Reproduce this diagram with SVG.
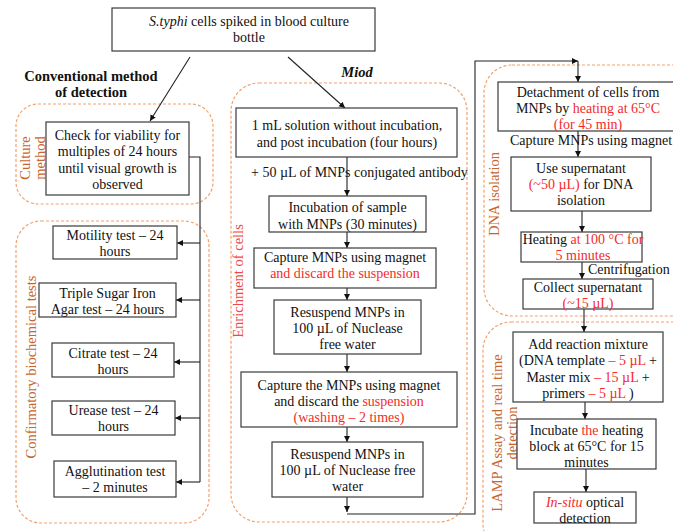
<svg xmlns="http://www.w3.org/2000/svg" width="673" height="531" viewBox="0 0 673 531">
<style>
text{font-family:"Liberation Serif","DejaVu Serif",serif;font-size:14px;fill:#111}
.c{text-anchor:middle}
.r{fill:#f52a2a}
.lbl{fill:#c8652e;font-size:14.5px}
.lblr{fill:#f04848;font-size:14.5px}
.b{font-weight:bold;font-size:14.5px}
.box{fill:#fff;stroke:#3a3a3a;stroke-width:1.2}
.grp{fill:none;stroke:#f5a06a;stroke-width:1.2;stroke-dasharray:3,2}
.ln{fill:none;stroke:#222;stroke-width:1.1}
</style>
<defs>
<marker id="ah" markerUnits="userSpaceOnUse" markerWidth="7" markerHeight="7" refX="6" refY="3.5" orient="auto">
<path d="M0,0.5 L6,3.5 L0,6.5 z" fill="#111"/>
</marker>
</defs>

<g id="groups">
<rect class="grp" x="16" y="104" width="197" height="100" rx="22"/>
<rect class="grp" x="16" y="221" width="193" height="302" rx="25"/>
<rect class="grp" x="231" y="83" width="236" height="439" rx="28"/>
<rect class="grp" x="484" y="65" width="230" height="251" rx="28"/>
<rect class="grp" x="483" y="322" width="230" height="230" rx="28"/>
<text class="c lbl" transform="translate(29.5,158) rotate(-90)">Culture</text>
<text class="c lbl" transform="translate(44.5,158) rotate(-90)">method</text>
<text class="c lbl" transform="translate(35.5,367) rotate(-90)">Confirmatory biochemical tests</text>
<text class="c lblr" transform="translate(242.5,281) rotate(-90)">Enrichment of cells</text>
<text class="c lbl" transform="translate(499,194) rotate(-90)">DNA isolation</text>
<text class="c lbl" transform="translate(501.5,433) rotate(-90)">LAMP Assay and real time</text>
<text class="c lbl" transform="translate(516.5,433) rotate(-90)">detection</text>
</g>

<g id="headings">
<text class="c b" x="91" y="81">Conventional method</text>
<text class="c b" x="91" y="97">of detection</text>
<text class="c b" x="357" y="77" font-style="italic">Miod</text>
</g>

<g id="connectors">
<line class="ln" x1="190" y1="57" x2="150" y2="121" marker-end="url(#ah)"/>
<line class="ln" x1="288" y1="57" x2="345" y2="108" marker-end="url(#ah)"/>
<polyline class="ln" points="189,157 200,157 200,482"/>
<line class="ln" x1="200" y1="243" x2="177" y2="243" marker-end="url(#ah)"/>
<line class="ln" x1="200" y1="300" x2="176" y2="300" marker-end="url(#ah)"/>
<line class="ln" x1="200" y1="362" x2="174" y2="362" marker-end="url(#ah)"/>
<line class="ln" x1="200" y1="418" x2="175" y2="418" marker-end="url(#ah)"/>
<line class="ln" x1="200" y1="482" x2="176" y2="482" marker-end="url(#ah)"/>
<line class="ln" x1="347" y1="157" x2="347" y2="196" marker-end="url(#ah)"/>
<line class="ln" x1="347" y1="232" x2="347" y2="248" marker-end="url(#ah)"/>
<line class="ln" x1="347" y1="288" x2="347" y2="300" marker-end="url(#ah)"/>
<line class="ln" x1="347" y1="354" x2="347" y2="372" marker-end="url(#ah)"/>
<line class="ln" x1="347" y1="427" x2="347" y2="442" marker-end="url(#ah)"/>
<line class="ln" x1="347" y1="497" x2="347" y2="512" marker-end="url(#ah)"/>
<polyline class="ln" points="347,514 475,514 475,61 578,61" marker-end="url(#ah)"/>
<line class="ln" x1="578" y1="61" x2="578" y2="82" marker-end="url(#ah)"/>
<line class="ln" x1="578" y1="131" x2="578" y2="157" marker-end="url(#ah)"/>
<line class="ln" x1="582" y1="211" x2="582" y2="232" marker-end="url(#ah)"/>
<line class="ln" x1="582" y1="262" x2="582" y2="279" marker-end="url(#ah)"/>
<line class="ln" x1="584" y1="309" x2="584" y2="332" marker-end="url(#ah)"/>
<line class="ln" x1="585" y1="402" x2="585" y2="419" marker-end="url(#ah)"/>
<line class="ln" x1="586" y1="469" x2="586" y2="492" marker-end="url(#ah)"/>
</g>

<g id="n-top">
<rect class="box" x="112" y="8" width="263" height="43"/>
<text class="c" x="249" y="26"><tspan font-style="italic">S.typhi</tspan> cells spiked in blood culture</text>
<text class="c" x="249" y="42">bottle</text>
</g>

<g id="n-culture">
<rect class="box" x="46" y="122" width="143" height="73"/>
<text class="c" x="117.5" y="139.5">Check for viability for</text>
<text class="c" x="117.5" y="156">multiples of 24 hours</text>
<text class="c" x="117.5" y="172.5">until visual growth is</text>
<text class="c" x="117.5" y="188.5">observed</text>
</g>

<g id="n-motility">
<rect class="box" x="53" y="226" width="124" height="33"/>
<text class="c" x="115" y="239.5">Motility test – 24</text>
<text class="c" x="115" y="256">hours</text>
</g>
<g id="n-tsi">
<rect class="box" x="39" y="283" width="137" height="34"/>
<text class="c" x="107.5" y="298">Triple Sugar Iron</text>
<text class="c" x="107.5" y="314">Agar test – 24 hours</text>
</g>
<g id="n-citrate">
<rect class="box" x="52" y="343" width="122" height="34"/>
<text class="c" x="113" y="358">Citrate test – 24</text>
<text class="c" x="113" y="374">hours</text>
</g>
<g id="n-urease">
<rect class="box" x="52" y="401" width="123" height="34"/>
<text class="c" x="113.5" y="415">Urease test – 24</text>
<text class="c" x="113.5" y="431">hours</text>
</g>
<g id="n-agglut">
<rect class="box" x="54" y="461" width="122" height="36"/>
<text class="c" x="115" y="476">Agglutination test</text>
<text class="c" x="115" y="492">– 2 minutes</text>
</g>

<g id="n-m1">
<rect class="box" x="236" y="108" width="221" height="49"/>
<text class="c" x="347" y="130">1 mL solution without incubation,</text>
<text class="c" x="347" y="147">and post incubation (four hours)</text>
</g>
<g id="l-antibody">
<text x="251" y="176.5">+ 50 µL of MNPs conjugated antibody</text>
</g>
<g id="n-m2">
<rect class="box" x="269" y="196" width="157" height="36"/>
<text class="c" x="347.5" y="211.5">Incubation of sample</text>
<text class="c" x="347.5" y="228.5">with MNPs (30 minutes)</text>
</g>
<g id="n-m3">
<rect class="box" x="254" y="248" width="182" height="40"/>
<text class="c" x="345" y="262">Capture MNPs using magnet</text>
<text class="c r" x="345" y="278">and discard the suspension</text>
</g>
<g id="n-m4">
<rect class="box" x="274" y="300" width="147" height="54"/>
<text class="c" x="347.5" y="316.5">Resuspend MNPs in</text>
<text class="c" x="347.5" y="332.5">100 µL of Nuclease</text>
<text class="c" x="347.5" y="348.5">free water</text>
</g>
<g id="n-m5">
<rect class="box" x="241" y="372" width="216" height="55"/>
<text class="c" x="349" y="389.5">Capture the MNPs using magnet</text>
<text class="c" x="349" y="405.5">and discard the <tspan class="r">suspension</tspan></text>
<text class="c r" x="349" y="421.5">(washing – 2 times)</text>
</g>
<g id="n-m6">
<rect class="box" x="272" y="442" width="151" height="55"/>
<text class="c" x="347.5" y="458.5">Resuspend MNPs in</text>
<text class="c" x="347.5" y="474.5">100 µL of Nuclease free</text>
<text class="c" x="347.5" y="490.5">water</text>
</g>

<g id="n-r1">
<rect class="box" x="498" y="82" width="176" height="49"/>
<text class="c" x="588" y="96.5">Detachment of cells from</text>
<text class="c" x="588" y="112.5">MNPs by <tspan class="r">heating at 65°C</tspan></text>
<text class="c r" x="588" y="128.5">(for 45 min)</text>
</g>
<g id="l-capture">
<text x="510" y="144.5" font-size="13.5">Capture MNPs using magnet</text>
</g>
<g id="n-r2">
<rect class="box" x="511" y="157" width="140" height="54"/>
<text class="c" x="581" y="172.5">Use supernatant</text>
<text class="c" x="581" y="188.5"><tspan class="r">(~50 µL)</tspan> for DNA</text>
<text class="c" x="581" y="204.5">isolation</text>
</g>
<g id="n-r3">
<rect class="box" x="521" y="232" width="121" height="30"/>
<text class="c" x="583" y="243.5">Heating <tspan class="r">at 100 °C for</tspan></text>
<text class="c r" x="583" y="259.5">5 minutes</text>
</g>
<g id="l-centrifugation">
<text x="588" y="273.5">Centrifugation</text>
</g>
<g id="n-r4">
<rect class="box" x="523" y="279" width="130" height="30"/>
<text class="c" x="588" y="291.5">Collect supernatant</text>
<text class="c r" x="588" y="307.5">(~15 µL)</text>
</g>
<g id="n-r5">
<rect class="box" x="513" y="332" width="150" height="70"/>
<text class="c" x="588" y="348.5">Add reaction mixture</text>
<text class="c" x="588" y="365">(DNA template <tspan class="r">– 5 µL</tspan> +</text>
<text class="c" x="588" y="381.5">Master mix <tspan class="r">– 15 µL</tspan> +</text>
<text class="c" x="588" y="397.5">primers <tspan class="r">– 5 µL</tspan> )</text>
</g>
<g id="n-r6">
<rect class="box" x="517" y="419" width="139" height="50"/>
<text class="c" x="586.5" y="434.5">Incubate <tspan class="r">the</tspan> heating</text>
<text class="c" x="586.5" y="450.5">block at 65°C for 15</text>
<text class="c" x="586.5" y="466.5">minutes</text>
</g>
<g id="n-r7">
<rect class="box" x="534" y="492" width="102" height="31"/>
<text class="c" x="585" y="506.5"><tspan class="r" font-style="italic">In-situ</tspan> optical</text>
<text class="c" x="585" y="522.5">detection</text>
</g>
</svg>
